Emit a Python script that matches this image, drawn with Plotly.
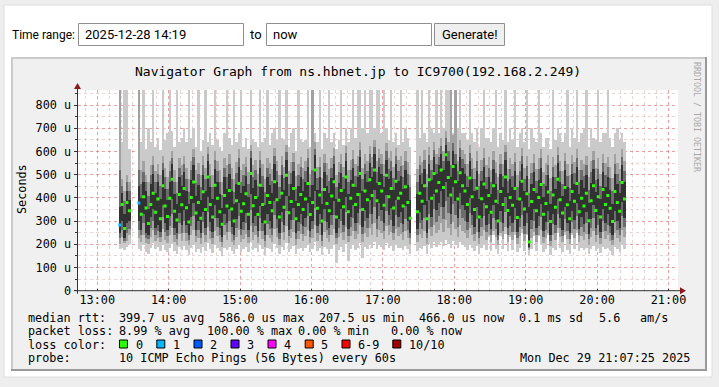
import plotly.graph_objects as go
import pandas as pd

W, H = 719, 387
MONO = "DejaVu Sans Mono"

# ---------------- data (2-minute bins starting 13:18, values in microseconds) ----------------
bin_start = "2025-12-29 13:18"
bin_minutes = 2

med = [
    None, 372, 268, 380, 345,
    None, None, None,
    None, 330, 405, 356, 290, 372, 420, 338, 395, 310,
    452, 365, 320, 398, 480, 342, 305, 415, 370, 440,
    358, 296, 402, 468, 335, 380, 312, 426, 350, 490,
    372, 318, 455, 398, 340, 286, 410, 365, 432, 352,
    300, 388, 462, 342, 375, 418, 330, 505, 366, 402,
    328, 455, 372, 296, 410, 380, 345, 470, 392, 318,
    420, 360, 498, 336, 384, 440, 310, 372, 415, 350,
    395, 462, 328, 380, 520, 355, 412, 300, 436, 376,
    345, 408, 470, 318, 390, 432, 362, 490, 340, 398,
    455, 372, 415, 505, 350, 430, 392, 478, 410, 520,
    388, 462, 430, 368, 498, 405, 440, 356, 472, 398,
    420, 365, 448, 380, 312,
    None, None,
    340, 420, 386, 452, 310, 478, 398, 505, 430, 466,
    520, 445, 586, 488, 412, 535, 470, 395, 508, 452,
    430, 372, 486, 405, 350, 442, 318, 396, 460, 362,
    410, 338, 452, 385, 300, 428, 372, 490, 346, 402,
    368, 440, 315, 395, 472, 352, 418, 210, 384, 436,
    345, 402, 458, 330, 376, 425, 298, 412, 360, 480,
    392, 335, 445, 370, 310, 428, 385, 462, 340, 398,
    365, 420, 302, 388, 452, 346, 405, 318, 436, 372,
    410, 355, 298, 428, 380, 342, 466, 395,
]

dark_lo = [
    250, 300, 225, 290, 300,
    None, None, None,
    300, 262, 330, 248, 240, 318, 350, 270, 285, 255,
    370, 290, 262, 320, 395, 270, 250, 335, 282, 348,
    285, 240, 318, 380, 262, 300, 250, 340, 272, 402,
    295, 255, 368, 315, 270, 232, 330, 290, 352, 275,
    242, 310, 378, 268, 295, 335, 260, 415, 290, 320,
    258, 365, 292, 238, 330, 300, 272, 385, 310, 250,
    340, 285, 410, 262, 305, 355, 248, 295, 332, 278,
    315, 378, 258, 300, 430, 280, 330, 240, 352, 296,
    270, 325, 385, 250, 310, 350, 285, 402, 265, 318,
    370, 292, 335, 420, 275, 348, 312, 392, 330, 435,
    308, 380, 348, 290, 412, 325, 355, 280, 390, 318,
    338, 288, 365, 300, 250,
    None, None,
    268, 338, 305, 368, 250, 392, 318, 418, 348, 380,
    430, 362, 470, 402, 332, 448, 385, 315, 422, 368,
    348, 295, 400, 325, 276, 360, 255, 315, 378, 285,
    330, 265, 368, 305, 242, 345, 292, 405, 270, 320,
    290, 355, 252, 315, 388, 278, 335, 190, 305, 352,
    270, 322, 372, 258, 298, 342, 240, 330, 285, 395,
    312, 262, 360, 292, 248, 345, 305, 378, 268, 318,
    288, 338, 245, 308, 368, 272, 325, 255, 352, 292,
    330, 280, 240, 345, 300, 270, 382, 315,
]

dark_hi = [
    360, 420, 330, 430, 390,
    None, None, None,
    450, 398, 470, 430, 352, 462, 505, 420, 468, 395,
    520, 440, 392, 470, 545, 418, 372, 490, 452, 512,
    430, 372, 478, 540, 410, 456, 390, 500, 428, 560,
    448, 395, 525, 470, 418, 356, 488, 440, 505, 430,
    372, 462, 535, 420, 450, 495, 405, 570, 442, 478,
    402, 528, 446, 368, 488, 455, 420, 545, 468, 395,
    498, 436, 565, 410, 460, 515, 385, 450, 492, 428,
    470, 535, 402, 455, 585, 432, 490, 372, 510, 452,
    422, 485, 545, 395, 465, 508, 440, 560, 418, 475,
    528, 448, 492, 575, 428, 505, 470, 550, 488, 590,
    465, 535, 505, 445, 565, 480, 515, 432, 545, 472,
    495, 440, 520, 455, 390,
    None, None,
    418, 498, 462, 525, 388, 548, 475, 575, 505, 540,
    590, 520, 630, 560, 490, 600, 545, 472, 578, 528,
    505, 448, 558, 482, 428, 515, 395, 472, 532, 440,
    488, 415, 525, 462, 375, 505, 448, 562, 422, 480,
    445, 515, 392, 472, 545, 428, 495, 360, 462, 512,
    422, 478, 530, 405, 452, 500, 372, 490, 438, 552,
    468, 410, 520, 448, 385, 505, 460, 535, 418, 475,
    442, 498, 378, 465, 525, 425, 482, 395, 510, 448,
    488, 432, 372, 505, 458, 420, 540, 470,
]

dmid_lo = [
    228, 262, 214, 250, 268,
    None, None, None,
    262, 238, 290, 228, 222, 272, 300, 240, 258, 232,
    318, 255, 236, 280, 330, 242, 222, 290, 248, 300,
    250, 218, 278, 320, 236, 262, 226, 295, 242, 338,
    258, 228, 312, 275, 240, 210, 285, 255, 302, 244,
    218, 270, 320, 240, 260, 290, 232, 348, 255, 280,
    232, 312, 258, 214, 286, 264, 240, 326, 270, 224,
    295, 252, 345, 234, 266, 305, 222, 258, 288, 246,
    275, 320, 232, 264, 358, 248, 286, 216, 302, 260,
    240, 282, 325, 225, 270, 300, 252, 338, 236, 276,
    314, 256, 290, 350, 244, 300, 272, 330, 286, 362,
    268, 320, 300, 256, 345, 282, 304, 250, 328, 276,
    292, 254, 310, 262, 225,
    None, None,
    240, 292, 266, 312, 225, 330, 276, 350, 298, 320,
    360, 308, 388, 336, 286, 372, 325, 274, 354, 312,
    300, 260, 335, 282, 246, 308, 228, 276, 320, 252,
    286, 238, 312, 268, 220, 298, 256, 340, 240, 280,
    255, 305, 226, 275, 326, 246, 290, 182, 266, 302,
    240, 280, 316, 232, 262, 295, 216, 286, 250, 332,
    272, 235, 308, 256, 224, 296, 266, 320, 238, 276,
    254, 292, 222, 270, 312, 242, 282, 228, 302, 258,
    285, 248, 218, 296, 262, 240, 322, 274,
]

dmid_hi = [
    520, 452, 385, 468, 430,
    None, None, None,
    520, 462, 512, 468, 410, 500, 540, 470, 505, 450,
    552, 488, 440, 515, 572, 470, 420, 530, 498, 545,
    480, 425, 520, 575, 465, 502, 445, 540, 480, 590,
    496, 448, 562, 515, 470, 412, 530, 490, 548, 480,
    425, 508, 572, 470, 498, 535, 458, 600, 490, 522,
    452, 565, 495, 424, 530, 502, 472, 580, 515, 448,
    540, 486, 598, 462, 508, 555, 440, 498, 534, 480,
    515, 572, 455, 520, 612, 484, 532, 428, 550, 500,
    474, 528, 580, 448, 510, 548, 488, 592, 470, 520,
    566, 496, 536, 608, 480, 548, 515, 588, 532, 620,
    512, 572, 548, 495, 600, 525, 558, 484, 580, 518,
    538, 490, 560, 505, 445,
    None, None,
    470, 540, 508, 565, 446, 584, 520, 608, 548, 578,
    625, 560, 660, 600, 540, 635, 590, 516, 614, 566,
    548, 496, 594, 526, 480, 558, 450, 518, 574, 490,
    530, 468, 562, 508, 432, 548, 496, 596, 474, 525,
    495, 555, 446, 516, 580, 480, 538, 420, 506, 550,
    474, 524, 570, 458, 500, 542, 428, 532, 490, 586,
    514, 462, 558, 496, 442, 545, 508, 572, 470, 520,
    494, 540, 434, 512, 562, 478, 526, 450, 550, 500,
    532, 484, 428, 548, 504, 472, 575, 515,
]

mid_lo = [
    200, 230, 205, 215, 240,
    None, None, None,
    225, 210, 240, 205, 200, 232, 262, 215, 228, 208,
    265, 220, 205, 238, 270, 210, 196, 245, 215, 250,
    215, 195, 238, 262, 208, 225, 200, 250, 212, 275,
    222, 200, 258, 235, 210, 188, 240, 220, 252, 212,
    195, 232, 262, 210, 224, 245, 205, 280, 220, 238,
    205, 258, 222, 190, 242, 228, 210, 268, 232, 198,
    248, 218, 278, 206, 228, 255, 198, 222, 245, 214,
    235, 262, 205, 228, 285, 215, 242, 192, 252, 225,
    210, 240, 265, 200, 230, 250, 218, 275, 208, 235,
    258, 222, 244, 282, 212, 250, 232, 270, 242, 290,
    230, 262, 250, 222, 278, 238, 254, 218, 266, 235,
    245, 220, 256, 226, 200,
    None, None,
    210, 245, 228, 258, 200, 268, 235, 282, 250, 262,
    290, 255, 305, 272, 240, 295, 265, 232, 285, 258,
    250, 225, 270, 240, 215, 255, 202, 236, 262, 220,
    242, 210, 258, 230, 196, 250, 222, 275, 212, 238,
    220, 254, 200, 234, 265, 215, 245, 175, 228, 252,
    212, 238, 262, 206, 226, 248, 194, 242, 218, 270,
    232, 208, 255, 222, 200, 248, 228, 262, 210, 236,
    220, 245, 198, 230, 258, 212, 240, 202, 252, 224,
    240, 216, 196, 248, 226, 210, 262, 232,
]

mid_hi = [
    900, 480, 430, 500, 470,
    None, None, None,
    900, 520, 560, 500, 470, 540, 580, 515, 545, 500,
    580, 530, 490, 560, 600, 520, 470, 570, 540, 580,
    530, 480, 560, 610, 520, 550, 500, 580, 530, 620,
    545, 500, 600, 560, 520, 470, 570, 540, 590, 530,
    480, 555, 610, 520, 545, 575, 510, 630, 540, 565,
    505, 600, 545, 480, 570, 550, 525, 615, 560, 500,
    580, 535, 630, 515, 555, 595, 495, 545, 575, 530,
    560, 610, 505, 900, 640, 535, 575, 485, 590, 550,
    525, 570, 615, 500, 555, 590, 535, 625, 520, 565,
    605, 545, 580, 640, 530, 590, 560, 625, 575, 650,
    560, 610, 590, 545, 635, 570, 600, 535, 615, 565,
    580, 540, 600, 555, 500,
    None, None,
    525, 580, 555, 605, 505, 620, 565, 640, 590, 615,
    660, 600, 690, 640, 900, 670, 900, 560, 650, 605,
    590, 545, 630, 570, 530, 600, 505, 565, 615, 540,
    575, 520, 600, 555, 490, 590, 545, 630, 525, 570,
    545, 595, 500, 560, 615, 530, 580, 480, 550, 590,
    525, 570, 610, 510, 550, 585, 485, 575, 540, 620,
    560, 515, 595, 545, 500, 585, 555, 610, 520, 565,
    545, 580, 490, 560, 600, 530, 570, 505, 590, 550,
    575, 535, 485, 590, 550, 525, 610, 560,
]

light_lo = [
    180, 185, 175, 190, 200,
    None, None, None,
    180, 172, 195, 168, 160, 186, 205, 178, 190, 170,
    195, 175, 165, 182, 200, 170, 158, 188, 175, 192,
    175, 155, 185, 198, 168, 180, 162, 190, 170, 205,
    178, 162, 195, 182, 170, 150, 186, 176, 190, 172,
    158, 180, 198, 168, 178, 188, 165, 208, 175, 185,
    165, 195, 178, 152, 186, 180, 168, 200, 182, 160,
    188, 175, 205, 166, 180, 192, 158, 178, 186, 172,
    182, 198, 165, 178, 210, 172, 185, 155, 190, 178,
    160, 180, 196, 120, 176, 188, 168, 200, 130, 180,
    195, 175, 186, 205, 140, 190, 180, 198, 186, 210,
    180, 196, 190, 176, 205, 184, 192, 172, 198, 182,
    186, 174, 192, 178, 160,
    None, None,
    170, 186, 180, 194, 160, 200, 182, 208, 188, 196,
    212, 194, 220, 202, 186, 215, 198, 182, 210, 195,
    188, 176, 198, 184, 170, 192, 160, 182, 196, 174,
    230, 172, 240, 180, 160, 235, 178, 245, 170, 232,
    176, 240, 165, 182, 250, 172, 238, 152, 180, 236,
    172, 234, 195, 168, 178, 240, 156, 186, 175, 248,
    182, 168, 242, 176, 160, 238, 180, 250, 170, 184,
    176, 186, 160, 180, 194, 172, 184, 164, 190, 178,
    184, 172, 156, 188, 178, 168, 196, 180,
]

light_hi = [
    900, 640, 900, 900, 610,
    None, None, None,
    900, 640, 900, 610, 700, 640, 900, 620, 660, 605,
    900, 650, 680, 900, 690, 620, 900, 640, 660, 700,
    640, 900, 660, 700, 620, 900, 600, 650, 900, 640,
    680, 630, 900, 650, 620, 600, 680, 900, 660, 630,
    900, 640, 680, 900, 620, 660, 610, 900, 650, 640,
    620, 900, 640, 660, 900, 630, 680, 700, 650, 900,
    660, 650, 900, 620, 680, 700, 600, 900, 650, 640,
    650, 900, 620, 900, 680, 640, 900, 610, 680, 660,
    900, 640, 680, 610, 650, 900, 630, 700, 640, 700,
    900, 660, 900, 900, 700, 900, 680, 900, 900, 700,
    900, 900, 680, 900, 700, 650, 900, 640, 680, 630,
    900, 640, 700, 660, 620,
    None, None,
    900, 660, 900, 680, 640, 900, 700, 680, 900, 680,
    900, 700, 900, 900, 900, 680, 900, 700, 900, 680,
    680, 650, 900, 680, 640, 700, 620, 700, 900, 660,
    660, 640, 700, 900, 620, 680, 650, 900, 640, 700,
    650, 900, 620, 680, 700, 640, 900, 610, 700, 660,
    640, 900, 680, 620, 660, 660, 610, 900, 650, 700,
    680, 640, 680, 900, 620, 700, 660, 900, 640, 680,
    700, 900, 620, 700, 660, 650, 900, 640, 680, 680,
    900, 660, 620, 680, 700, 650, 680, 640,
]

# medians with 1/10 packet loss (drawn in the "1" loss colour)
loss1_time = ["2025-12-29 13:19", "2025-12-29 13:35"]
loss1_val = [283, 378]

y_ticks = [0, 100, 200, 300, 400, 500, 600, 700, 800]
y_tick_text = ["0", "100 u", "200 u", "300 u", "400 u", "500 u", "600 u", "700 u", "800 u"]
x_ticks = ["2025-12-29 %02d:00" % h for h in range(13, 22)]
x_tick_text = ["%02d:00" % h for h in range(13, 22)]

loss_labels = ["0", "1", "2", "3", "4", "5", "6-9", "10/10"]
loss_colors = ["#26ff00", "#00b8ff", "#0059ff", "#5e00ff", "#ff00ff", "#ff5500", "#ff0000", "#a10000"]

# ---------------- geometry helpers (pixel -> paper) ----------------
def px(x):
    return x / W


def py(y):
    return 1 - y / H


PL, PR, PT, PB = 77.5, 678.0, 90.0, 290.7

times = pd.date_range(bin_start, periods=len(med), freq=f"{bin_minutes}min")
centers = times + pd.Timedelta(minutes=bin_minutes / 2)


def heights(lo, hi):
    return [None if a is None else b - a for a, b in zip(lo, hi)]


fig = go.Figure()
for lo, hi, col in [(light_lo, light_hi, "#cacaca"),
                    (mid_lo, mid_hi, "#a2a2a2"),
                    (dmid_lo, dmid_hi, "#6c6c6c"),
                    (dark_lo, dark_hi, "#323232")]:
    fig.add_trace(go.Bar(
        x=times, base=lo, y=heights(lo, hi), width=bin_minutes * 60000, offset=0,
        marker=dict(color=col, line=dict(width=0)), hoverinfo="skip"))

fig.add_trace(go.Scatter(x=centers, y=med, mode="markers",
                         marker=dict(symbol="square", size=3, color=loss_colors[0], line=dict(width=0)),
                         hoverinfo="skip"))
fig.add_trace(go.Scatter(x=pd.to_datetime(loss1_time), y=loss1_val, mode="markers",
                         marker=dict(symbol="square", size=3, color=loss_colors[1], line=dict(width=0)),
                         hoverinfo="skip"))

shapes = []


def rect(x0, y0, x1, y1, fill, line=None, lw=0, layer="below"):
    shapes.append(dict(type="rect", xref="paper", yref="paper",
                       x0=px(x0), x1=px(x1), y0=py(y1), y1=py(y0),
                       fillcolor=fill, line=dict(color=line or fill, width=lw), layer=layer))


def hline(x0, x1, y, color, w=1, layer="below"):
    shapes.append(dict(type="line", xref="paper", yref="paper", x0=px(x0), x1=px(x1),
                       y0=py(y), y1=py(y), line=dict(color=color, width=w), layer=layer))


def vline(x, y0, y1, color, w=1, layer="below"):
    shapes.append(dict(type="line", xref="paper", yref="paper", x0=px(x), x1=px(x),
                       y0=py(y0), y1=py(y1), line=dict(color=color, width=w), layer=layer))


def tri(points, color):
    path = "M " + " L ".join("%f,%f" % (px(a), py(b)) for a, b in points) + " Z"
    shapes.append(dict(type="path", xref="paper", yref="paper", path=path,
                       fillcolor=color, line=dict(color=color, width=0), layer="above"))


# page panel
rect(4, 5, 712, 377, "#ffffff", "#dddddd", 1)
# form controls
rect(78.5, 23.5, 243.5, 45.5, "#ffffff", "#8f8f8f", 1)
rect(266.5, 23.5, 431.5, 45.5, "#ffffff", "#8f8f8f", 1)
rect(434.5, 23.5, 504.5, 45.5, "#efefef", "#8f8f8f", 1)
# rrdtool image
rect(11, 57, 707, 371, "#f0f0f0")
hline(11, 707, 58, "#cbcbcb", 2)
vline(12, 57, 371, "#cbcbcb", 2)
hline(11, 707, 370, "#9a9a9a", 2)
vline(706, 57, 371, "#9a9a9a", 2)
# canvas
rect(PL, PT, PR, PB, "#ffffff")
# axes + arrows
hline(PL - 3, 681, PB, "#333333", 1, layer="above")
vline(PL, PB + 3, 87, "#333333", 1, layer="above")
tri([(680, PB - 3.5), (686, PB), (680, PB + 3.5)], "#8b1a1a")
tri([(PL - 3.5, 89), (PL, 83), (PL + 3.5, 89)], "#8b1a1a")

annotations = []


def txt(s, x, y, size=11.8, family=MONO, anchor="left", color="#000000", angle=0):
    annotations.append(dict(text=s, x=px(x), y=py(y), xref="paper", yref="paper",
                            xanchor=anchor, yanchor="middle", showarrow=False, textangle=angle,
                            borderpad=0, font=dict(family=family, size=size, color=color)))


# legend colour boxes
box_x = [119.5, 156.8, 194.0, 231.0, 268.0, 305.2, 342.0, 392.8]
for bx, lab, col in zip(box_x, loss_labels, loss_colors):
    rect(bx, 340, bx + 8, 348, col, "#000000", 1, layer="above")
    txt(lab, bx + 15, 344.5)

SANS = "Roboto"
txt("Time range:", 11, 35, 12, SANS)
txt("2025-12-28 14:19", 84, 35, 13, SANS)
txt("to", 249, 35, 13, SANS)
txt("now", 272, 35, 13, SANS)
txt("Generate!", 469.5, 35, 13, SANS, anchor="center")

txt("Navigator Graph from ns.hbnet.jp to IC9700(192.168.2.249)", 358, 71, 13, anchor="center")
txt("Seconds", 22, 189, angle=-90, anchor="center")
txt("RRDTOOL / TOBI OETIKER", 697, 117, 8.3, anchor="center", color="#a8a8a8", angle=90)

row1 = [("median rtt:", 27), ("399.7 us avg", 118.3), ("586.0 us max", 218.3), ("207.5 us min", 318.3),
        ("466.0 us now", 418.3), ("0.1 ms sd", 518.3), ("5.6", 597.7), ("am/s", 639)]
row2 = [("packet loss:", 27), ("8.99 % avg", 118.3), ("100.00 % max", 205.7), ("0.00 % min", 297),
        ("0.00 % now", 390)]
for s, x in row1:
    txt(s, x, 317.5)
for s, x in row2:
    txt(s, x, 331)
txt("loss color:", 27, 344.5)
txt("probe:", 27, 358)
txt("10 ICMP Echo Pings (56 Bytes) every 60s", 118.3, 358)
txt("Mon Dec 29 21:07:25 2025", 691, 358, anchor="right")

fig.update_layout(
    width=W, height=H, autosize=False,
    margin=dict(l=0, r=0, t=0, b=0, pad=0, autoexpand=False),
    paper_bgcolor="#eeeeee", plot_bgcolor="rgba(0,0,0,0)",
    barmode="overlay", bargap=0, showlegend=False,
    shapes=shapes, annotations=annotations,
    xaxis=dict(domain=[px(PL), px(PR)], type="date", automargin=False,
               range=["2025-12-29 12:43:25", "2025-12-29 21:08:00"],
               tickvals=x_ticks, ticktext=x_tick_text,
               tickfont=dict(family=MONO, size=11.8, color="#000"),
               ticks="inside", ticklen=2, tickcolor="#333333",
               showgrid=True, gridcolor="rgba(235,110,110,0.5)", griddash="dot", gridwidth=1,
               minor=dict(dtick=600000, showgrid=True, gridcolor="rgba(215,175,175,0.55)",
                          griddash="dot", ticks="inside", ticklen=1, tickcolor="#333333"),
               zeroline=False, showline=False, fixedrange=True),
    yaxis=dict(domain=[py(PB), py(PT)], range=[0, 865], automargin=False,
               tickvals=y_ticks, ticktext=y_tick_text,
               tickfont=dict(family=MONO, size=11.8, color="#000"),
               ticks="outside", ticklen=3, tickcolor="#333333",
               showgrid=True, gridcolor="rgba(235,110,110,0.5)", griddash="dot", gridwidth=1,
               minor=dict(dtick=50, showgrid=True, gridcolor="rgba(215,175,175,0.55)",
                          griddash="dot", ticks="outside", ticklen=2, tickcolor="#333333"),
               zeroline=False, showline=False, fixedrange=True),
)

POST = """
var d=document.documentElement, b=document.body;
b.style.margin='0'; b.style.padding='0'; b.style.overflow='hidden'; d.style.overflow='hidden';
b.style.background='#eeeeee';
var gd=document.getElementById('{plot_id}');
var s=gd._fullLayout && gd._fullLayout._size;
if(s && (Math.abs(s.w-719)>0.5 || Math.abs(s.h-387)>0.5 || s.l!==0 || s.t!==0)){
  Plotly.relayout(gd,{'margin.autoexpand':false,'margin.l':0,'margin.r':0,'margin.t':0,'margin.b':0,
                      'xaxis.automargin':false,'yaxis.automargin':false});
}
"""

fig.write_html("out.html", config={"displayModeBar": False, "staticPlot": True}, post_script=POST)
